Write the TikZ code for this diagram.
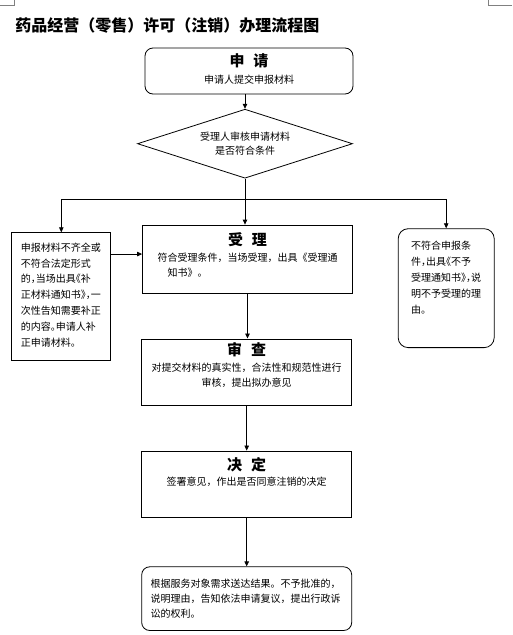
\documentclass[tikz,border=0pt]{standalone}
\usepackage{fontspec}
\setmainfont{Noto Sans CJK SC}
\newfontfamily\sidefont{Noto Sans CJK SC}[RawFeature=+halt]
\usepackage{tikz}
\usetikzlibrary{arrows.meta, positioning, shapes.geometric}

\newcommand{\headfont}{\fontsize{15}{18}\selectfont\bfseries}

\begin{document}
\begin{tikzpicture}[
    x=1pt, y=-1pt,
    line width=0.8pt,
    stage/.style={draw, rectangle, minimum width=210pt, align=center, inner xsep=0pt, font=\fontsize{10}{15.5}\selectfont},
    roundstage/.style={stage, rounded corners=8pt},
    sidebox/.style={draw, rectangle, align=left, inner xsep=9pt, font=\sidefont\fontsize{10}{15.8}\selectfont},
    decisionbox/.style={draw, diamond, aspect=3.1, minimum width=215pt, minimum height=69pt, inner sep=0pt, align=center, font=\fontsize{10}{14.6}\selectfont},
    arrow/.style={-{Triangle[length=5pt, width=4.5pt]}}
]
    \useasboundingbox (0,0) rectangle (512,635);

    % page corner marks
    \draw[gray, line width=0.6pt] (0,5) -| (14,0);
    \draw[gray, line width=0.6pt] (512,5) -| (488,0);

    % Nodes
    \node[anchor=west, inner sep=0pt, font=\fontsize{16}{19}\selectfont\bfseries] (title) at (15,25) {药品经营（零售）许可（注销）办理流程图};

    \node[roundstage, minimum width=208pt, minimum height=46pt, text depth=4.5pt] (apply) at (249,71) {{\headfont 申\hspace{.6em}请}\\[2pt]申请人提交申报材料};
    \node[decisionbox] (decision) at (245,143.7) {受理人审核申请材料\\是否符合条件};

    \node[stage, below=46pt of decision, xshift=2.5pt, inner ysep=8pt, text depth=8.2pt] (accept) {{\headfont 受\hspace{.6em}理}\\符合受理条件，当场受理，出具《受理通\\\makebox[180pt][l]{\hspace{10pt}知书》。}};
    \node[stage, below=45pt of accept, xshift=-0.8pt, inner ysep=4pt, text depth=14.2pt] (review) {{\headfont 审\hspace{.6em}查}\\对提交材料的真实性，合法性和规范性进行\\审核，提出拟办意见};
    \node[stage, below=45pt of review, inner ysep=6pt, text depth=25.5pt] (decide) {{\headfont 决\hspace{.6em}定}\\签署意见，作出是否同意注销的决定};
    \node[roundstage, below=49pt of decide, align=left, text width=192pt, inner xsep=9pt, inner ysep=12.5pt, font=\fontsize{10}{14.7}\selectfont] (result) {根据服务对象需求送达结果。不予批准的，\\说明理由，告知依法申请复议，提出行政诉\\讼的权利。};

    \node[sidebox, text width=81pt, inner ysep=10pt, text depth=98.9pt, anchor=north] (leftbox) at (61.3,232.3) {申报材料不齐全或\\不符合法定形式\\的，当场出具《补\\正材料通知书》，一\\次性告知需要补正\\的内容。申请人补\\正申请材料。};
    \node[sidebox, rounded corners=10pt, text width=70pt, inner xsep=13pt, inner ysep=12pt, text depth=86.5pt, anchor=north, font=\sidefont\fontsize{10}{16}\selectfont] (rightbox) at (446.2,228.3) {不符合申报条\\件，出具《不予\\受理通知书》，说\\明不予受理的理\\由。};

    % Arrows
    \draw[arrow] (decision.north |- apply.south) -- (decision.north);
    \draw (decision.south) -- ++(0,21) coordinate (split);
    \draw[arrow] (split) -| (leftbox.north);
    \draw[arrow] (split) -| (rightbox.north);
    \draw[arrow] (split) -- (split |- accept.north);

    \path ([yshift=5pt]accept.west) coordinate (acceptin);
    \draw[arrow] (leftbox.east |- acceptin) -- (acceptin);

    \draw[arrow] (accept.south) -- (accept.south |- review.north);
    \draw[arrow] (review.south) -- (review.south |- decide.north);
    \draw[arrow] (decide.south) -- (decide.south |- result.north);
\end{tikzpicture}
\end{document}
